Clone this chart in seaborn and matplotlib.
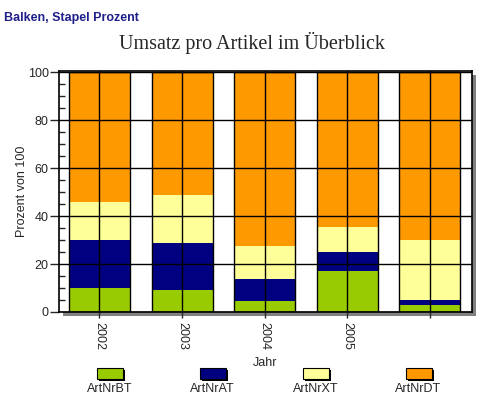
import matplotlib
matplotlib.use("Agg")
from matplotlib import pyplot as plt
from matplotlib.patches import Rectangle
from matplotlib.ticker import MultipleLocator
import numpy as np
import pandas as pd
import seaborn as sns

# Data (percent per article and year)
years = ["2002", "2003", "2004", "2005", ""]
art_bt = [10.0, 9.2, 4.7, 17.1, 2.9]
art_at = [20.0, 19.5, 9.0, 7.9, 2.1]
art_xt = [16.0, 20.0, 13.8, 10.4, 25.0]
art_dt = [54.0, 51.3, 72.5, 64.6, 70.0]

series = ["ArtNrBT", "ArtNrAT", "ArtNrXT", "ArtNrDT"]
colors = ["#99CC00", "#000080", "#FFFF99", "#FF9900"]

sns.set_style("white")
plt.rcParams["font.family"] = ["Liberation Sans", "DejaVu Sans"]

df = pd.DataFrame({"Jahr": years, "ArtNrBT": art_bt, "ArtNrAT": art_at,
                   "ArtNrXT": art_xt, "ArtNrDT": art_dt})
cum = df[series].cumsum(axis=1)

fig = plt.figure(figsize=(4.98, 3.98), dpi=100)
ax = fig.add_axes([0.1185, 0.2161, 0.8293, 0.6055])

# drop shadow behind the plot area
pos = ax.get_position()
fig.patches.append(Rectangle((pos.x0 + 4 / 498, pos.y0 - 4 / 398),
                             pos.width, pos.height, transform=fig.transFigure,
                             facecolor="#808080", edgecolor="none", zorder=0))
ax.set_zorder(1)
ax.set_facecolor("white")

# stacked bars: draw cumulative totals from top layer down
for name, col in zip(series[::-1], colors[::-1]):
    sns.barplot(x=df["Jahr"], y=cum[name], color=col, width=0.74,
                saturation=1, linewidth=0, ax=ax, order=years, zorder=2)
sns.barplot(x=df["Jahr"], y=cum["ArtNrDT"], color="black", fill=False,
            saturation=1, width=0.74, linewidth=1.0, ax=ax, order=years,
            zorder=3)

ax.set_xlim(-0.49, 4.51)
ax.set_ylim(0, 100.5)
ax.yaxis.set_major_locator(MultipleLocator(20))
ax.yaxis.set_minor_locator(MultipleLocator(5))
ax.grid(True, which="major", color="black", linewidth=1.0, zorder=4)
ax.set_axisbelow(False)
for sp in ax.spines.values():
    sp.set_color("black")
    sp.set_linewidth(1.2)
    sp.set_zorder(5)

ax.tick_params(axis="y", which="major", direction="out", length=6.5, width=1,
               labelsize=9, pad=1, left=True)
ax.tick_params(axis="y", which="minor", direction="in", length=4.5, width=1,
               left=True)
ax.tick_params(axis="x", which="major", direction="out", length=4, width=1,
               labelsize=9, pad=3, bottom=True)
plt.setp(ax.get_xticklabels(), rotation=270, ha="center", va="top")

ax.set_ylabel("Prozent von 100", fontsize=9, labelpad=0)
ax.set_xlabel("Jahr", fontsize=9, labelpad=5)

fig.text(0.008, 0.948, "Balken, Stapel Prozent", fontsize=9,
         fontweight="bold", color="#1F1F8A", ha="left", va="baseline")
fig.text(0.506, 0.878, "Umsatz pro Artikel im Überblick", fontsize=14.5,
         family=["Liberation Serif", "DejaVu Serif"], ha="center",
         va="baseline")

# legend: boxes with labels below them
leg_x = [109.5, 212.7, 315.5, 418.5]
for cx, name, col in zip(leg_x, series, colors):
    x0 = (cx - 13) / 498
    y0 = (398 - 379) / 398
    w, h = 26 / 498, 11 / 398
    fig.patches.append(Rectangle((x0 + 2 / 498, y0 - 2 / 398), w, h,
                                 transform=fig.transFigure,
                                 facecolor="black", edgecolor="none"))
    fig.patches.append(Rectangle((x0, y0), w, h, transform=fig.transFigure,
                                 facecolor=col, edgecolor="black",
                                 linewidth=0.8))
    fig.text(cx / 498, (398 - 389.5) / 398, name, fontsize=9,
             ha="center", va="center")

fig.savefig("out.png", dpi=100)
